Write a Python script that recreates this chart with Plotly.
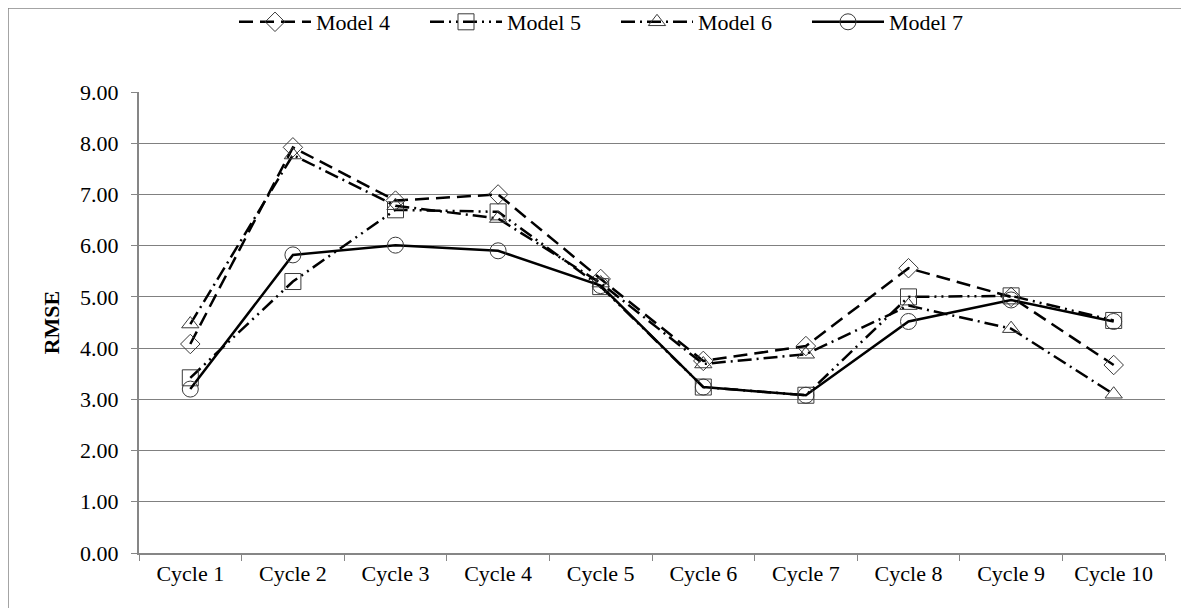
import plotly.graph_objects as go

CYCLES = [f"Cycle {i}" for i in range(1, 11)]
MODEL_4 = [4.08, 7.92, 6.88, 7.00, 5.35, 3.75, 4.04, 5.56, 5.00, 3.67]
MODEL_5 = [3.42, 5.30, 6.70, 6.66, 5.20, 3.24, 3.08, 5.00, 5.02, 4.54]
MODEL_6 = [4.47, 7.77, 6.78, 6.53, 5.27, 3.69, 3.88, 4.83, 4.38, 3.10]
MODEL_7 = [3.20, 5.82, 6.01, 5.90, 5.22, 3.24, 3.08, 4.52, 4.94, 4.52]

FONT = "Liberation Serif"
FONT_SIZE = 22
AXIS_COLOR = "#868686"
MARKER_EDGE = "#3a3a3a"

# the page body adds an 8px offset, so the figure is a bit smaller than the window
W, H = 1181, 600
M_L, M_R, M_T, M_B = 131, 24, 84, 55

series = [
    ("Model 4", MODEL_4, "diamond-open", "14px,7px", 15),
    ("Model 5", MODEL_5, "square-open", "14px,5px,2px,5px,2px,5px", 16),
    ("Model 6", MODEL_6, "triangle-up-open", "14px,5px,2px,5px", 15),
    ("Model 7", MODEL_7, "circle-open", "solid", 16),
]

fig = go.Figure()
for name, values, symbol, dash, size in series:
    fig.add_trace(
        go.Scatter(
            x=CYCLES,
            y=values,
            mode="lines+markers",
            name=name,
            line=dict(color="black", width=2.5, dash=dash),
            marker=dict(symbol=symbol, size=size, color=MARKER_EDGE, line=dict(width=1, color=MARKER_EDGE)),
        )
    )

# outer chart frame (only its left and top edges fall inside the window)
pw = W - M_L - M_R
ph = H - M_T - M_B
fig.add_shape(
    type="rect",
    xref="paper",
    yref="paper",
    x0=(0 - M_L) / pw,
    x1=(W + 20 - M_L) / pw,
    y0=-(M_B + 20) / ph,
    y1=(H - M_B) / ph,
    line=dict(color=AXIS_COLOR, width=1.5),
    layer="below",
)

fig.update_layout(
    width=W,
    height=H,
    margin=dict(l=M_L, r=M_R, t=M_T, b=M_B),
    paper_bgcolor="white",
    plot_bgcolor="white",
    font=dict(family=FONT, size=FONT_SIZE, color="black"),
    showlegend=True,
    legend=dict(
        orientation="h",
        xref="container",
        yref="container",
        x=226 / W,
        xanchor="left",
        y=1 - 14 / H,
        yanchor="middle",
        itemwidth=72,
        entrywidth=104,
        font=dict(family=FONT, size=FONT_SIZE, color="black"),
        bgcolor="rgba(0,0,0,0)",
    ),
    xaxis=dict(
        type="category",
        range=[-0.5, 9.5],
        showgrid=False,
        showline=True,
        linecolor=AXIS_COLOR,
        linewidth=2,
        ticks="outside",
        tickson="boundaries",
        ticklen=6,
        tickcolor=AXIS_COLOR,
        tickfont=dict(family=FONT, size=FONT_SIZE, color="black"),
    ),
    yaxis=dict(
        range=[0, 9],
        dtick=1,
        tickformat=".2f",
        showgrid=True,
        gridcolor="#808080",
        gridwidth=1,
        zeroline=False,
        showline=True,
        linecolor=AXIS_COLOR,
        linewidth=2,
        ticks="outside",
        ticklen=6,
        tickcolor=AXIS_COLOR,
        ticklabelstandoff=8,
        tickfont=dict(family=FONT, size=FONT_SIZE, color="black"),
        title=dict(text="<b>RMSE</b>", font=dict(family=FONT, size=FONT_SIZE, color="black"), standoff=14),
    ),
)

fig.write_html("out.html")
